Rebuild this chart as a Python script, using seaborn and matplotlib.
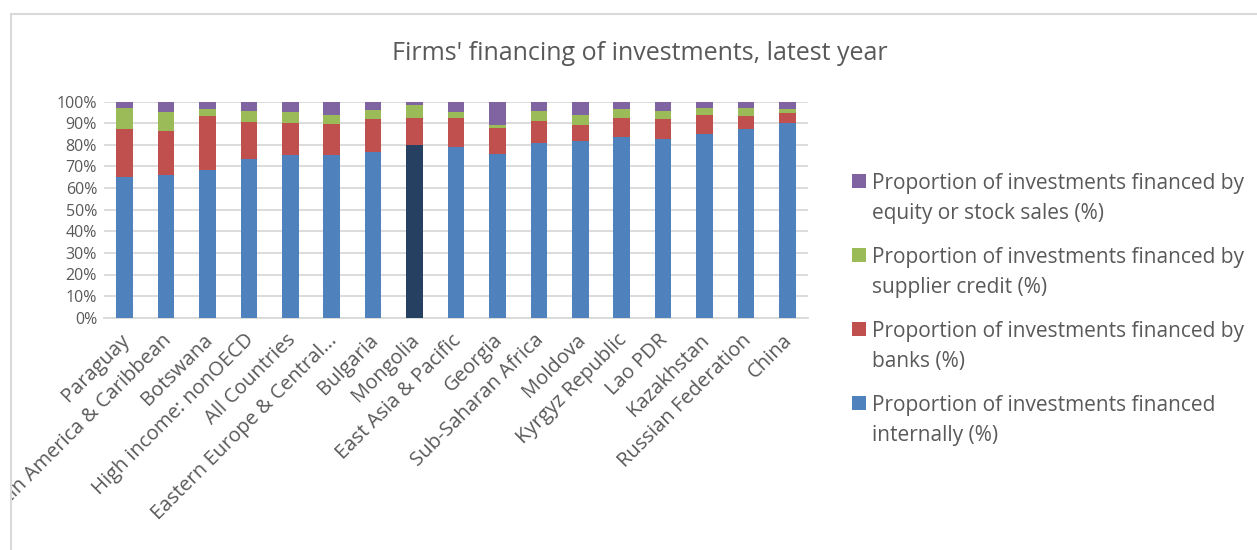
import matplotlib
matplotlib.use("Agg")
import matplotlib.pyplot as plt
from matplotlib.patches import Rectangle
from matplotlib.lines import Line2D
from matplotlib.transforms import Bbox, TransformedBbox, ScaledTranslation
import seaborn as sns
import pandas as pd
import numpy as np

# ==== Data ===================================================================
countries = ["Paraguay", "Latin America & Caribbean", "Botswana",
             "High income: nonOECD", "All Countries", "Eastern Europe & Central...",
             "Bulgaria", "Mongolia", "East Asia & Pacific", "Georgia",
             "Sub-Saharan Africa", "Moldova", "Kyrgyz Republic", "Lao PDR",
             "Kazakhstan", "Russian Federation", "China"]
internal = [65.3, 65.9, 68.2, 73.3, 75.2, 75.5, 76.5, 80.1, 78.9, 75.8,
            80.7, 81.6, 83.5, 82.7, 84.9, 87.2, 90.3]
banks = [22.2, 20.7, 25.3, 17.3, 15.1, 14.3, 15.6, 12.5, 13.4, 12.2,
         10.2, 7.8, 9.1, 9.4, 8.9, 6.3, 4.5]
supplier = [9.7, 8.5, 3.1, 5.2, 4.9, 4.0, 4.2, 5.9, 2.8, 1.2,
            4.8, 4.3, 4.2, 3.7, 3.1, 3.4, 1.8]
equity = [2.8, 4.9, 3.4, 4.2, 4.8, 6.2, 3.7, 1.5, 4.9, 10.8,
          4.3, 6.3, 3.2, 4.2, 3.1, 3.1, 3.4]
series_labels = [["Proportion of investments financed", "internally (%)"],
                 ["Proportion of investments financed by", "banks (%)"],
                 ["Proportion of investments financed by", "supplier credit (%)"],
                 ["Proportion of investments financed by", "equity or stock sales (%)"]]
highlight = "Mongolia"

# ==== Settings ===============================================================
sns.set_style("white")
plt.rcParams['font.family'] = ['Open Sans', 'DejaVu Sans']
text_color = '#595959'
grid_color = '#D9D9D9'
colors = ['#4F81BD', '#C0504D', '#9BBB59', '#8064A2']
highlight_color = '#254061'
W, H = 1257, 550

df = pd.DataFrame({"country": countries, "internal": internal, "banks": banks,
                   "supplier": supplier, "equity": equity})
cols = ["internal", "banks", "supplier", "equity"]
cum = df[cols].cumsum(axis=1) / 100.0

# ==== Figure =================================================================
fig = plt.figure(figsize=(W / 100, H / 100), dpi=100)
ax = fig.add_axes([104 / W, 1 - 317.7 / H, (808 - 104) / W, 216 / H])

# draw stacks from the top layer down so each covers the one below
for col, c in zip(reversed(cols), reversed(colors)):
    sns.barplot(x=df["country"], y=cum[col], color=c, width=0.4,
                saturation=1, ax=ax, zorder=3)

# recolor the highlighted internal bar
n = len(countries)
internal_patches = ax.patches[-n:]
internal_patches[countries.index(highlight)].set_facecolor(highlight_color)
for p in ax.patches:
    p.set_edgecolor('none')

# ==== Axes ===================================================================
ax.set_xlim(-0.5, n - 0.5)
ax.set_ylim(0, 1)
yt = np.arange(0, 1.01, 0.1)
ax.set_yticks(yt)
ax.set_yticklabels([f"{int(round(v * 100))}%" for v in yt])
ax.yaxis.grid(True, color=grid_color, linewidth=1.3, zorder=0)
ax.set_axisbelow(True)
for s in ['top', 'right', 'left']:
    ax.spines[s].set_visible(False)
ax.spines['bottom'].set_color(grid_color)
ax.spines['bottom'].set_linewidth(1.3)
ax.tick_params(axis='both', length=0, colors=text_color)
ax.tick_params(axis='y', pad=5, labelsize=11.5)
ax.tick_params(axis='x', pad=9, labelsize=14.5)
ax.set_xlabel('')
ax.set_ylabel('')
ax.set_xticks(range(n))
ax.set_xticklabels(countries, rotation=45, ha='right', rotation_mode='anchor')

# nudge labels left and clip them at the chart frame like the original
clip = TransformedBbox(Bbox([[12 / W, 0], [1, 1]]), fig.transFigure)
shift = ScaledTranslation(-5 / 100, 0, fig.dpi_scale_trans)
for t in ax.get_xticklabels():
    t.set_transform(t.get_transform() + shift)
    t.set_clip_on(True)
    t.set_clip_box(clip)

# ==== Title ==================================================================
fig.text(640 / W, 1 - 53 / H, "Firms' financing of investments, latest year",
         ha='center', va='center', fontsize=18, color=text_color)

# ==== Legend =================================================================
for i, (lines, c) in enumerate(zip(series_labels[::-1], colors[::-1])):
    base = 189 + 74 * i
    fig.add_artist(Rectangle((852 / W, 1 - (base - 1) / H), 14 / W, 14 / H,
                             transform=fig.transFigure, facecolor=c,
                             edgecolor='none'))
    for j, line in enumerate(lines):
        fig.text(872 / W, 1 - (base + 30 * j) / H, line, ha='left',
                 va='baseline', fontsize=15, color=text_color)

# ==== Chart frame ============================================================
fig.add_artist(Line2D([11 / W, 11 / W], [0, 1 - 14 / H],
                      transform=fig.transFigure, color=grid_color, linewidth=1.5))
fig.add_artist(Line2D([11 / W, 1], [1 - 14 / H, 1 - 14 / H],
                      transform=fig.transFigure, color=grid_color, linewidth=1.5))

fig.savefig("out.png", dpi=100, facecolor='white')
